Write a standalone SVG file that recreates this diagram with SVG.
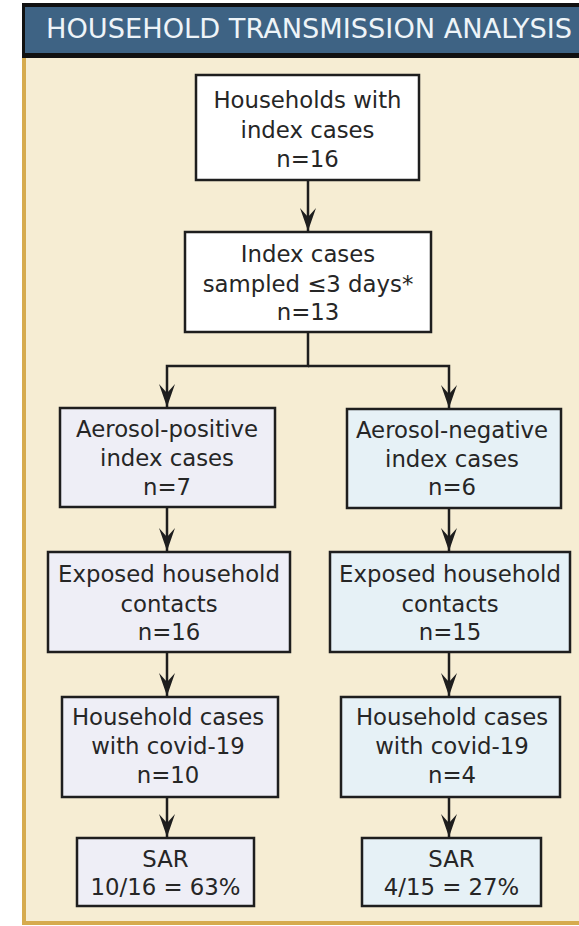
<svg xmlns="http://www.w3.org/2000/svg" width="579" height="926" viewBox="0 0 579 926">
  <style>
    .box { stroke: #1e1e1e; stroke-width: 2.5; }
    .w { fill: #ffffff; }
    .pos { fill: #eeeef6; }
    .neg { fill: #e6f1f6; }
    .t { font-family: "DejaVu Sans", Verdana, sans-serif; font-size: 22.8px; fill: #262626; text-anchor: middle; }
    .hdr { font-family: "DejaVu Sans", Verdana, sans-serif; font-size: 26px; fill: #eef4f8; }
    .conn { fill: none; stroke: #1e1e1e; stroke-width: 2.5; }
  </style>
  <defs>
    <marker id="ah" markerUnits="userSpaceOnUse" markerWidth="26" markerHeight="20" viewBox="-24 -10 26 20" refX="0" refY="0" orient="auto">
      <path d="M0,0 L-23,-8 L-14,0 L-23,8 Z" fill="#1e1e1e"/>
    </marker>
  </defs>

  <rect x="0" y="0" width="579" height="926" fill="#ffffff"/>
  <g id="panel">
    <rect x="22" y="58" width="557" height="865" fill="#f6edd3"/>
    <rect x="22" y="58" width="4" height="867" fill="#d6ab4e"/>
    <rect x="22" y="921" width="557" height="4" fill="#d6ab4e"/>
  </g>
  <g id="header">
    <rect x="22" y="3" width="557" height="55" fill="#111111"/>
    <rect x="25" y="7" width="554" height="46" fill="#3e6384"/>
    <text class="hdr" x="46" y="38" textLength="526" lengthAdjust="spacingAndGlyphs">HOUSEHOLD TRANSMISSION ANALYSIS</text>
  </g>

  <g id="connectors">
    <path class="conn" d="M308,180 V231" marker-end="url(#ah)"/>
    <path class="conn" d="M308,332 V366 H167 V407" marker-end="url(#ah)"/>
    <path class="conn" d="M308,366 H449 V408" marker-end="url(#ah)"/>
    <path class="conn" d="M167,507 V551" marker-end="url(#ah)"/>
    <path class="conn" d="M449,508 V551" marker-end="url(#ah)"/>
    <path class="conn" d="M167,652 V696" marker-end="url(#ah)"/>
    <path class="conn" d="M449,652 V696" marker-end="url(#ah)"/>
    <path class="conn" d="M167,797 V837" marker-end="url(#ah)"/>
    <path class="conn" d="M449,797 V837" marker-end="url(#ah)"/>
  </g>

  <g id="households">
    <rect class="box w" x="196" y="75" width="223" height="105"/>
    <text class="t" x="307.5" y="108">Households with</text>
    <text class="t" x="307.5" y="138">index cases</text>
    <text class="t" x="307.5" y="167">n=16</text>
  </g>
  <g id="index-sampled">
    <rect class="box w" x="185" y="232" width="246" height="100"/>
    <text class="t" x="308" y="262">Index cases</text>
    <text class="t" x="308" y="292">sampled ≤3 days*</text>
    <text class="t" x="308" y="320">n=13</text>
  </g>
  <g id="aerosol-positive">
    <rect class="box pos" x="60" y="408" width="215" height="99"/>
    <text class="t" x="167" y="437">Aerosol-positive</text>
    <text class="t" x="167" y="466">index cases</text>
    <text class="t" x="167" y="495">n=7</text>
  </g>
  <g id="aerosol-negative">
    <rect class="box neg" x="347" y="409" width="214" height="99"/>
    <text class="t" x="452" y="438">Aerosol-negative</text>
    <text class="t" x="452" y="467">index cases</text>
    <text class="t" x="452" y="495">n=6</text>
  </g>
  <g id="exposed-positive">
    <rect class="box pos" x="48" y="552" width="242" height="100"/>
    <text class="t" x="169" y="582">Exposed household</text>
    <text class="t" x="169" y="612">contacts</text>
    <text class="t" x="169" y="640">n=16</text>
  </g>
  <g id="exposed-negative">
    <rect class="box neg" x="330" y="552" width="240" height="100"/>
    <text class="t" x="450" y="582">Exposed household</text>
    <text class="t" x="450" y="612">contacts</text>
    <text class="t" x="450" y="640">n=15</text>
  </g>
  <g id="cases-positive">
    <rect class="box pos" x="62" y="697" width="216" height="100"/>
    <text class="t" x="168" y="725">Household cases</text>
    <text class="t" x="168" y="754">with covid-19</text>
    <text class="t" x="168" y="783">n=10</text>
  </g>
  <g id="cases-negative">
    <rect class="box neg" x="341" y="697" width="219" height="100"/>
    <text class="t" x="452" y="725">Household cases</text>
    <text class="t" x="452" y="754">with covid-19</text>
    <text class="t" x="452" y="783">n=4</text>
  </g>
  <g id="sar-positive">
    <rect class="box pos" x="77" y="838" width="177" height="68"/>
    <text class="t" x="165.5" y="867">SAR</text>
    <text class="t" x="165.5" y="895">10/16 = 63%</text>
  </g>
  <g id="sar-negative">
    <rect class="box neg" x="362" y="838" width="179" height="68"/>
    <text class="t" x="451.5" y="867">SAR</text>
    <text class="t" x="451.5" y="895">4/15 = 27%</text>
  </g>
</svg>
